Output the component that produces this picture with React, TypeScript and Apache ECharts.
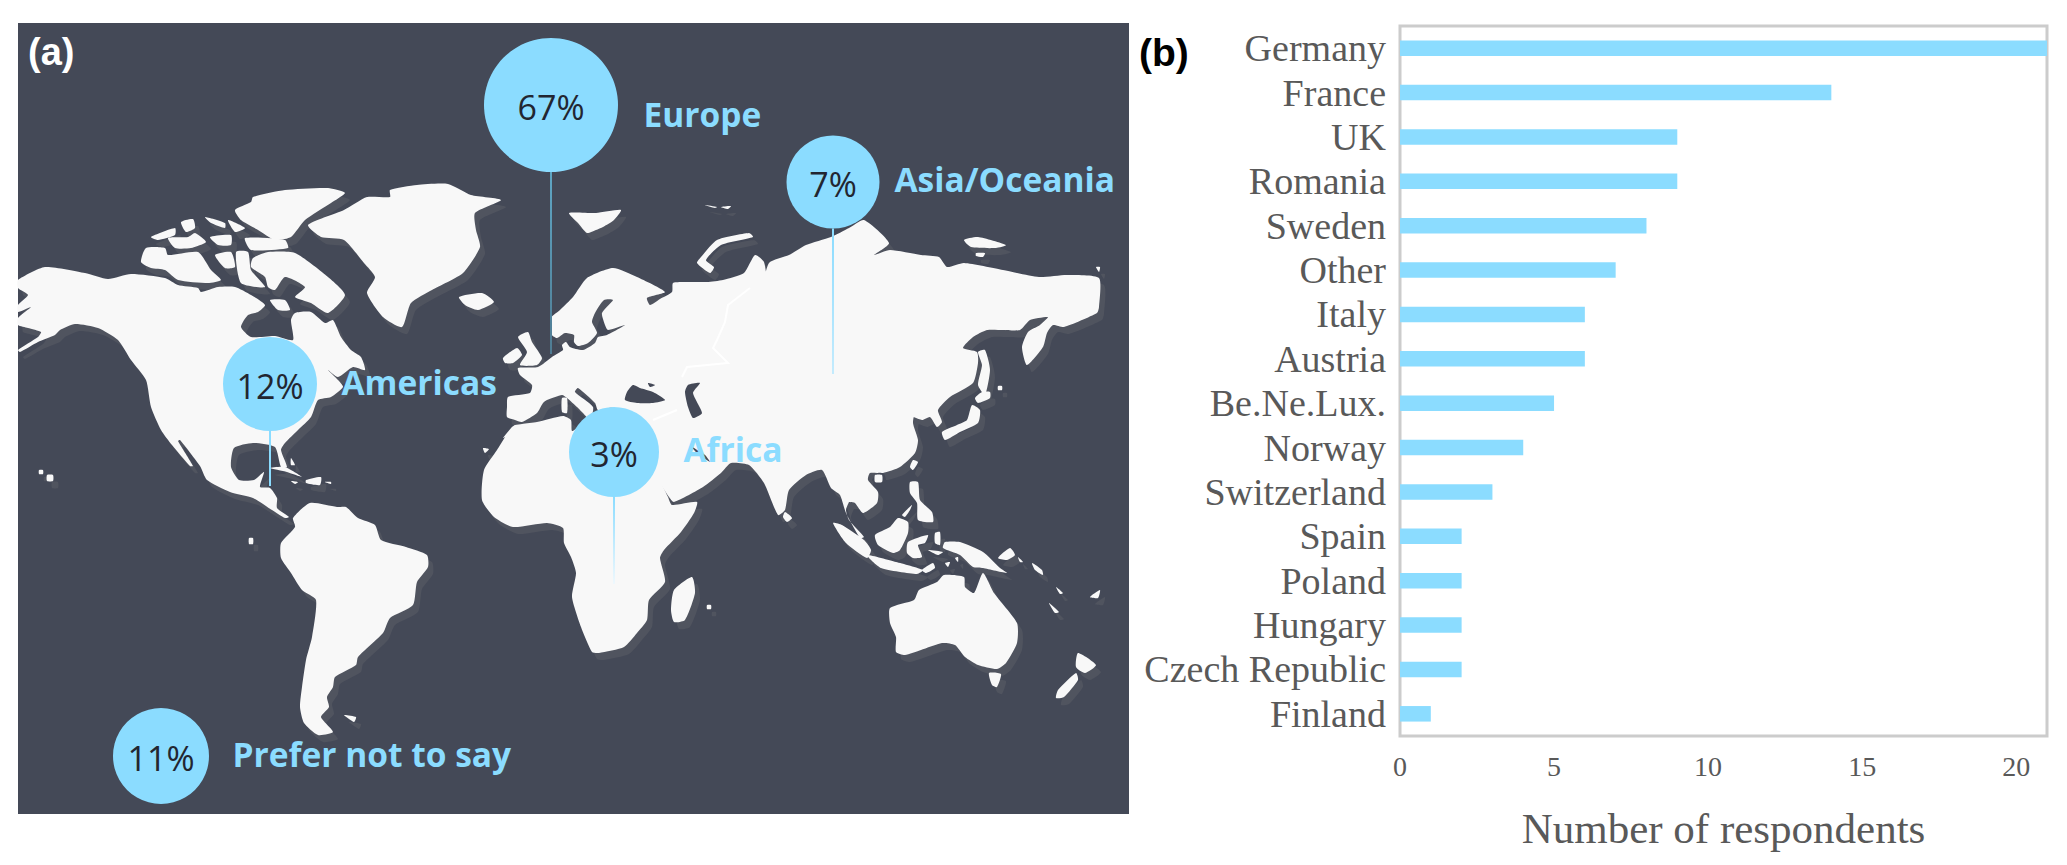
import React, { useEffect, useRef } from "react";
import * as echarts from "echarts";

// ---------- panel (b) data ----------
const countries = ["Germany","France","UK","Romania","Sweden","Other","Italy","Austria","Be.Ne.Lux.","Norway","Switzerland","Spain","Poland","Hungary","Czech Republic","Finland"];
const respondents = [21,14,9,9,8,7,6,6,5,4,3,2,2,2,2,1];

// ---------- panel (a) data ----------
const regions = ["Europe","Asia/Oceania","Americas","Africa","Prefer not to say"];
const shares = [67,7,12,3,11];
const bubbleX = [551,833,270,614,161];
const bubbleY = [105,182,384,452,756];
const bubbleD = [134,93,94,90,96];
const regionLabelX = [643,894,341,683,232];
const regionLabelY = [114,179,382,449,754];
const stemEnd = [354,374,486,584,0];

// ---------- hand-traced land outlines, in panel units ----------
type Pt = [number, number];
const land: Pt[][] = [
  // North America
  [[18,280],[45,267],[85,273],[108,279],[131,274],[165,278],[178,285],[198,288],[201,292],[218,287],[235,287],[251,295],[265,305],[258,312],[248,315],[241,327],[251,337],[275,336],[293,340],[291,320],[295,313],[311,312],[325,323],[333,320],[341,337],[351,350],[361,357],[365,370],[353,367],[338,377],[328,370],[338,380],[343,387],[331,397],[318,400],[311,417],[298,430],[285,443],[281,450],[287,467],[281,467],[275,447],[253,443],[234,448],[231,467],[239,480],[254,480],[264,472],[260,487],[270,488],[277,498],[277,508],[289,517],[285,518],[272,510],[253,498],[230,492],[207,480],[200,466],[180,440],[178,441],[193,466],[190,466],[172,445],[161,430],[151,407],[146,380],[131,360],[118,340],[98,328],[75,324],[60,330],[55,335],[38,342],[20,352],[18,350],[38,337],[41,332],[28,328],[18,325],[18,318],[31,307],[18,312],[18,305],[28,295],[18,288]],
  // Greenland
  [[390,190],[417,185],[448,184],[471,195],[501,200],[475,213],[476,230],[480,247],[463,273],[432,290],[411,303],[402,327],[383,317],[367,293],[375,277],[364,263],[344,240],[321,237],[308,225],[344,210],[367,197],[390,197]],
  // Arctic Canada
  [[235,210],[251,202],[253,197],[285,190],[328,188],[345,193],[331,203],[305,220],[291,237],[275,240],[258,230],[241,220]],
  [[245,238],[285,240],[288,248],[251,250]],
  [[205,217],[225,223],[225,228],[211,223]],
  [[228,220],[245,228],[235,232]],
  [[181,222],[193,219],[195,228],[186,232]],
  [[151,237],[175,228],[175,235],[158,240]],
  [[168,238],[188,237],[195,233],[206,242],[191,248],[175,248]],
  [[210,237],[231,235],[231,245],[218,245]],
  [[141,262],[146,248],[165,248],[168,255],[198,252],[211,270],[221,280],[208,283],[178,280],[165,270],[151,268]],
  [[215,255],[231,252],[235,267],[225,268]],
  [[253,258],[268,252],[295,253],[328,277],[345,295],[328,313],[311,303],[295,297],[305,287],[285,277],[275,290],[268,287],[265,277],[251,267]],
  [[236,252],[248,252],[251,270],[265,287],[241,283]],
  [[270,300],[285,300],[290,310],[278,310]],
  // Iceland
  [[459,297],[482,293],[494,302],[478,310],[465,305]],
  // South America
  [[293,518],[310,503],[337,507],[346,507],[358,518],[375,525],[381,540],[406,547],[427,555],[428,567],[417,582],[413,605],[390,618],[383,633],[358,657],[356,665],[335,677],[333,687],[327,697],[329,707],[321,717],[333,732],[318,735],[304,723],[300,707],[302,687],[306,660],[312,637],[316,600],[302,590],[291,573],[281,558],[281,543],[295,527]],
  [[344,715],[356,717],[354,722]],
  // Caribbean
  [[270,468],[285,467],[302,477],[287,472]],
  [[306,480],[321,477],[320,485],[306,483]],
  [[325,482],[331,482],[331,484]],
  [[291,481],[298,482],[295,484]],
  [[291,458],[295,465],[291,465]],
  // Eurasia
  [[507,407],[508,397],[530,393],[532,385],[520,375],[518,368],[538,367],[552,357],[563,350],[562,345],[566,342],[570,347],[583,350],[595,343],[598,337],[607,335],[625,325],[608,330],[605,325],[602,313],[613,300],[604,300],[595,313],[592,322],[597,333],[588,343],[578,346],[574,342],[574,335],[565,333],[557,338],[552,335],[551,318],[560,310],[573,297],[587,278],[613,268],[637,277],[665,292],[647,298],[650,305],[660,299],[672,292],[673,283],[687,282],[707,282],[723,280],[744,273],[755,255],[764,262],[767,287],[762,292],[769,263],[789,255],[806,245],[831,237],[849,228],[864,220],[889,243],[874,255],[890,250],[921,255],[939,257],[947,267],[964,263],[1003,270],[1039,277],[1067,275],[1099,278],[1099,307],[1097,313],[1064,327],[1053,325],[1047,333],[1043,347],[1027,365],[1022,347],[1028,332],[1040,325],[1048,317],[1030,320],[1020,330],[1003,330],[987,330],[973,337],[963,348],[977,352],[978,363],[973,383],[950,397],[938,410],[942,422],[937,427],[930,417],[922,420],[907,413],[915,407],[913,423],[918,440],[915,453],[900,467],[883,473],[870,473],[868,480],[878,492],[877,503],[863,513],[855,503],[850,502],[849,502],[846,510],[849,520],[864,537],[860,538],[846,513],[840,495],[831,488],[822,470],[806,475],[789,490],[785,510],[778,515],[764,483],[749,465],[731,463],[721,473],[703,487],[674,502],[669,497],[656,477],[640,450],[620,425],[613,408],[598,410],[595,403],[578,388],[575,392],[593,407],[590,420],[583,413],[577,407],[567,398],[562,395],[547,400],[543,403],[537,413],[522,422],[515,420],[507,417]],
  // Africa
  [[515,425],[522,424],[537,422],[563,416],[571,420],[572,431],[580,427],[620,440],[650,460],[657,474],[668,497],[672,505],[697,502],[694,513],[681,532],[664,550],[660,558],[665,582],[649,600],[647,620],[637,633],[624,647],[599,653],[592,652],[581,627],[572,597],[576,573],[571,557],[564,543],[563,528],[547,523],[513,527],[494,517],[482,500],[484,470],[497,450],[505,437],[503,438],[512,427]],
  [[483,448],[489,449],[485,453]],
  [[692,577],[695,593],[685,620],[674,622],[671,610],[674,590]],
  // Britain, Ireland
  [[518,337],[528,332],[532,342],[542,358],[537,365],[520,365],[527,352]],
  [[503,358],[517,348],[522,355],[513,363],[505,363]],
  // Corsica + Sardinia
  [[562,398],[567,398],[567,413],[562,412]],
  // Arctic Eurasia
  [[569,213],[596,213],[621,210],[614,220],[603,227],[596,230],[587,233],[578,223]],
  [[705,205],[717,207],[715,208]],
  [[721,207],[731,206],[728,209]],
  [[749,233],[717,240],[701,257],[697,263],[710,273],[714,267],[706,260],[721,245],[753,237]],
  [[964,240],[978,237],[1006,245],[996,248],[971,247]],
  [[976,253],[985,253],[983,257],[976,256]],
  [[1096,267],[1100,267],[1099,272]],
  // East Asia islands
  [[978,352],[985,350],[990,370],[985,395],[978,385],[982,365]],
  [[982,392],[990,392],[990,398],[978,403],[975,398]],
  [[972,405],[980,410],[978,423],[960,432],[945,440],[942,432],[957,425],[967,420]],
  [[913,460],[918,462],[913,470],[910,467]],
  [[910,482],[918,482],[920,500],[932,512],[933,522],[918,520],[917,503],[910,493]],
  [[902,515],[912,505],[910,510],[905,517]],
  [[875,535],[890,527],[898,518],[908,522],[908,533],[900,550],[893,553],[878,545]],
  [[833,523],[842,525],[864,540],[871,550],[867,558],[846,543]],
  [[867,555],[896,562],[923,570],[917,574],[881,568]],
  [[922,570],[933,563],[935,568],[926,573]],
  [[908,542],[928,535],[925,543],[918,545],[922,557],[913,558],[907,553]],
  [[935,533],[940,532],[940,545],[935,543]],
  [[945,542],[960,542],[983,552],[1000,568],[1007,573],[983,568],[973,567],[960,555],[943,548]],
  [[928,550],[943,552],[938,555]],
  [[998,558],[1010,548],[1015,555],[1007,560]],
  [[1018,557],[1023,562],[1020,562]],
  [[1032,563],[1042,570],[1043,575],[1035,570]],
  [[1056,587],[1063,593],[1060,594]],
  [[1049,603],[1059,612],[1055,613]],
  [[1090,597],[1100,590],[1098,598]],
  [[945,563],[950,562],[948,567]],
  [[955,558],[958,557],[958,562]],
  // Australia, NZ
  [[890,608],[914,600],[919,590],[937,582],[944,575],[964,577],[965,587],[974,593],[983,573],[994,593],[1017,623],[1017,643],[1006,663],[997,669],[978,665],[965,657],[955,645],[942,643],[921,650],[905,655],[896,652],[896,637],[890,623]],
  [[989,673],[1001,674],[997,687],[992,685]],
  [[1078,653],[1096,665],[1085,673],[1076,667]],
  [[1076,673],[1078,680],[1064,697],[1056,698],[1058,690]],
  // Sri Lanka
  [[785,512],[792,518],[787,522],[783,517]],
  // small dots
  [[47,475],[53,475],[53,481],[47,481]],
  [[39,470],[43,470],[43,474],[39,474]],
  [[249,538],[253,538],[253,544],[249,544]],
  [[707,605],[711,605],[711,609],[707,609]],
  [[998,386],[1002,386],[1002,390],[998,390]],
];
const inlandWater: Pt[][] = [
  [[633,385],[640,388],[653,392],[665,400],[653,403],[637,403],[625,400],[627,392]],
  [[648,383],[655,385],[650,387]],
  [[688,385],[700,383],[693,393],[702,413],[693,418],[688,407],[685,392]],
  [[692,447],[697,453],[710,462],[705,455]],
  [[878,473],[884,474],[886,482],[878,484],[872,480]],
];
const hainan: Pt[][] = [[[875,475],[882,475],[882,482],[875,482]]];
const borders: Pt[][] = [
  [[750,288],[728,305],[725,322],[717,340],[713,348],[728,363],[687,367],[682,377]],
  [[677,410],[653,420]],
];
const stemColors: [string, string][] = [
  ["#5FA6C4", "#4F7B92"],
  ["#8BDCFF", "#C4EBFD"],
  ["#8BDCFF", "#8BDCFF"],
  ["#8BDCFF", "#EFF8FD"],
];

const PANEL = "#444957";
const LAND = "#F8F8F8";
const SHADOW = "#50545F";
const BLUE = "#8BDCFF";
const SANS = "'Open Sans', sans-serif";
const SERIF = "'Liberation Serif', serif";
const GREY = "#595959";

function polygons(polys: Pt[][], fill: string, dx: number, dy: number, z: number) {
  return {
    type: "custom",
    coordinateSystem: "cartesian2d",
    xAxisIndex: 0,
    yAxisIndex: 0,
    silent: true,
    z,
    clip: false,
    data: polys.map((p) => [p[0][0], p[0][1]]),
    renderItem: (params: any, api: any) => ({
      type: "polygon",
      shape: { smooth: 0.2, points: polys[params.dataIndex].map((p) => api.coord([p[0] + dx, p[1] + dy])) },
      style: { fill },
    }),
  };
}

export default function App() {
  const ref = useRef<HTMLDivElement>(null);
  useEffect(() => {
    const chart = echarts.init(ref.current!, null, { renderer: "svg" });
    chart.setOption({
      animation: false,
      backgroundColor: "#FFFFFF",
      grid: [
        { left: 18, top: 23, width: 1111, height: 791, show: true, backgroundColor: PANEL, borderWidth: 0 },
        { left: 1400, top: 26, width: 647, height: 710, show: true, backgroundColor: "#FFFFFF", borderColor: "#CCCCCC", borderWidth: 3 },
      ],
      xAxis: [
        { gridIndex: 0, type: "value", min: 18, max: 1129, show: false },
        {
          gridIndex: 1, type: "value", min: 0, max: 21, interval: 5,
          splitLine: { show: false }, axisLine: { show: false }, axisTick: { show: false },
          axisLabel: { showMaxLabel: false, margin: 16, fontFamily: SERIF, fontSize: 28, color: GREY },
          name: "Number of respondents", nameLocation: "middle", nameGap: 71,
          nameTextStyle: { fontFamily: SERIF, fontSize: 43, color: GREY },
        },
      ],
      yAxis: [
        { gridIndex: 0, type: "value", min: 23, max: 814, inverse: true, show: false },
        {
          gridIndex: 1, type: "category", data: countries, inverse: true,
          axisLine: { show: false }, axisTick: { show: false }, splitLine: { show: false },
          axisLabel: { margin: 14, interval: 0, fontFamily: SERIF, fontSize: 38, color: GREY },
        },
      ],
      series: [
        polygons(land, SHADOW, 5, 7, 1),
        polygons(land, LAND, 0, 0, 2),
        polygons(inlandWater, PANEL, 0, 0, 3),
        polygons(hainan, LAND, 0, 0, 3),
        {
          type: "custom", coordinateSystem: "cartesian2d", xAxisIndex: 0, yAxisIndex: 0, silent: true, z: 3,
          data: borders.map((b) => [b[0][0], b[0][1]]),
          renderItem: (params: any, api: any) => ({
            type: "polyline",
            shape: { points: borders[params.dataIndex].map((p) => api.coord(p)) },
            style: { stroke: "#FFFFFF", lineWidth: 2, fill: "none" },
          }),
        },
        {
          type: "custom", coordinateSystem: "cartesian2d", xAxisIndex: 0, yAxisIndex: 0, silent: true, z: 4,
          data: stemColors.map((_, i) => [bubbleX[i], bubbleY[i] + bubbleD[i] / 2, stemEnd[i]]),
          encode: { x: 0, y: [1, 2] },
          renderItem: (params: any, api: any) => {
            const a = api.coord([api.value(0), api.value(1)]);
            const b = api.coord([api.value(0), api.value(2)]);
            const c = stemColors[params.dataIndex];
            return {
              type: "rect",
              shape: { x: a[0] - 1, y: a[1], width: 2, height: b[1] - a[1] },
              style: { fill: new echarts.graphic.LinearGradient(0, 0, 0, 1, [{ offset: 0, color: c[0] }, { offset: 1, color: c[1] }]) },
            };
          },
        },
        {
          type: "scatter", xAxisIndex: 0, yAxisIndex: 0, silent: true, z: 5,
          data: regions.map((r, i) => ({ name: r, value: [bubbleX[i], bubbleY[i], shares[i]], symbolSize: bubbleD[i] })),
          itemStyle: { color: BLUE, opacity: 1 },
          label: {
            show: true, position: "inside", offset: [0, 2], formatter: (p: any) => p.value[2] + "%",
            fontFamily: SANS, fontSize: 34, color: "#222631",
          },
        },
        {
          type: "scatter", xAxisIndex: 0, yAxisIndex: 0, silent: true, z: 6, symbolSize: 1,
          data: regions.map((r, i) => ({ name: r, value: [regionLabelX[i], regionLabelY[i]] })),
          itemStyle: { color: "rgba(0,0,0,0)", opacity: 1 },
          label: {
            show: true, position: "right", distance: 0, formatter: (p: any) => p.name,
            fontFamily: SANS, fontWeight: 700, fontSize: 33.5, color: BLUE,
          },
        },
        {
          type: "bar", xAxisIndex: 1, yAxisIndex: 1, data: respondents, barWidth: "35%", silent: true,
          itemStyle: { color: BLUE }, z: 5,
        },
      ],
      graphic: [
        { type: "text", x: 28, y: 33, silent: true, style: { text: "(a)", fill: "#FFFFFF", font: "bold 38px 'Liberation Sans', sans-serif" } },
        { type: "text", x: 1139, y: 33, silent: true, style: { text: "(b)", fill: "#000000", font: "bold 39px 'Liberation Sans', sans-serif" } },
      ],
    });
    return () => chart.dispose();
  }, []);
  return <div ref={ref} style={{ position: "fixed", left: 0, top: 0, width: 2067, height: 865 }} />;
}
